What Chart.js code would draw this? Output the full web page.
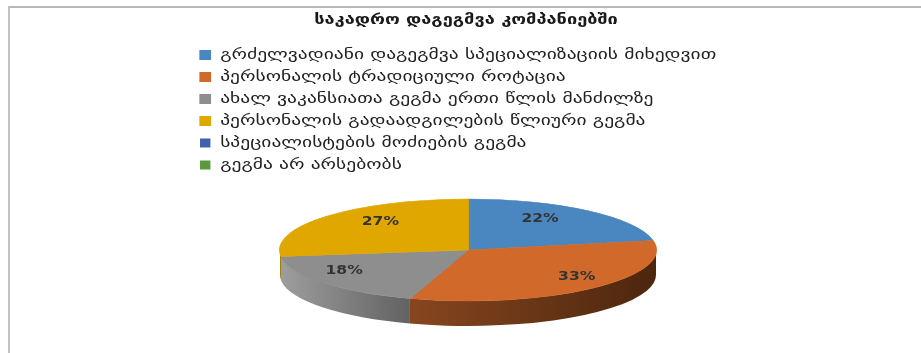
<!DOCTYPE html>
<html>
<head>
<meta charset="utf-8">
<script src="https://cdn.jsdelivr.net/npm/chart.js@4.4.1/dist/chart.umd.min.js"></script>
<style>
  html, body { margin: 0; padding: 0; background: #ffffff; }
  #wrap { position: relative; width: 921px; height: 353px; overflow: hidden; }
  #frame { position: absolute; left: 8px; top: 6px; width: 930px; height: 360px;
           border-left: 2px solid #c2c2c2; border-top: 2px solid #b8b8b8; }
  #c { position: absolute; left: 0; top: 0; }
</style>
</head>
<body>
<div id="wrap">
  <div id="frame"></div>
  <canvas id="c" width="921" height="353"></canvas>
</div>
<script>
// Survey: how companies plan their staffing (shares in %)
const chartTitle = 'საკადრო დაგეგმვა კომპანიებში';
const categories = [
  'გრძელვადიანი დაგეგმვა სპეციალიზაციის მიხედვით',
  'პერსონალის ტრადიციული როტაცია',
  'ახალ ვაკანსიათა გეგმა ერთი წლის მანძილზე',
  'პერსონალის გადაადგილების წლიური გეგმა',
  'სპეციალისტების მოძიების გეგმა',
  'გეგმა არ არსებობს'
];
const shares = [22, 33, 18, 27, 0, 0];

// face colours and the light/dark ends of each slice's outer wall
const faceColors = ['#4a86bf', '#d0692a', '#8e8e8e', '#e0a700', '#3f62ae', '#5b9a3c'];
const wallLight  = ['#2f5a84', '#87461f', '#9d9d9d', '#b08a10', '#2a4378', '#3e6a28'];
const wallDark   = ['#1e3b57', '#4c260e', '#626262', '#8a6a00', '#1b2c50', '#29461a'];

// where the tilted pie sits on the page
const PIE = { cx: 468, cy: 250, rx: 188, ry: 51, depth: 25, labelLift: 7 };
// the wide Georgian lettering: text is stretched horizontally about TEXT_X0
const TEXT_STRETCH = 1.3;
const TEXT_X0 = 466;

const FONT = "'DejaVu Sans', 'Noto Sans', sans-serif";

const tiltedPie = {
  id: 'tiltedPie',
  afterLayout(chart) {
    // let long legend lines run past the legend's own column
    const lg = chart.legend;
    if (lg) { lg.right = chart.width; lg.width = lg.right - lg.left; }
  },
  beforeDraw(chart) {
    // title and legend are drawn stretched
    const ctx = chart.ctx;
    ctx.save();
    ctx.translate(TEXT_X0, 0);
    ctx.scale(TEXT_STRETCH, 1);
    ctx.translate(-TEXT_X0, 0);
  },
  beforeDatasetsDraw(chart) {
    const ctx = chart.ctx;
    ctx.restore();

    const meta = chart.getDatasetMeta(0);
    const first = meta.data[0];
    const R = first.outerRadius;
    const sx = PIE.rx / R, sy = PIE.ry / R;

    // outer wall: only the front half (angles 0..PI) is visible
    meta.data.forEach((arc, i) => {
      if (!shares[i]) return;
      const a1 = Math.max(arc.startAngle, 0);
      const a2 = Math.min(arc.endAngle, Math.PI);
      if (a2 <= a1) return;
      const xl = PIE.cx + PIE.rx * Math.cos(a2);
      const xr = PIE.cx + PIE.rx * Math.cos(a1);
      const g = ctx.createLinearGradient(xl, 0, Math.max(xr, xl + 1), 0);
      g.addColorStop(0, wallLight[i]);
      g.addColorStop(1, wallDark[i]);
      ctx.save();
      ctx.beginPath();
      ctx.ellipse(PIE.cx, PIE.cy, PIE.rx, PIE.ry, 0, a1, a2, false);
      ctx.ellipse(PIE.cx, PIE.cy + PIE.depth, PIE.rx, PIE.ry, 0, a2, a1, true);
      ctx.closePath();
      ctx.fillStyle = g;
      ctx.fill();
      ctx.restore();
    });

    // the library's arcs, squashed into the top face
    ctx.save();
    ctx.translate(PIE.cx, PIE.cy);
    ctx.scale(sx, sy);
    ctx.translate(-first.x, -first.y);
  },
  afterDatasetsDraw(chart) {
    const ctx = chart.ctx;
    ctx.restore();

    const meta = chart.getDatasetMeta(0);
    const total = shares.reduce((s, v) => s + v, 0);
    ctx.save();
    ctx.font = 'bold 12px ' + FONT;
    ctx.fillStyle = '#333333';
    ctx.textAlign = 'center';
    ctx.textBaseline = 'middle';
    meta.data.forEach((arc, i) => {
      if (!shares[i]) return;
      const mid = (arc.startAngle + arc.endAngle) / 2;
      // slices nearer the viewer get their label pushed further out
      const f = 0.56 + 0.36 * (1 + Math.sin(mid)) / 2;
      const x = PIE.cx + f * PIE.rx * Math.cos(mid);
      const y = PIE.cy - PIE.labelLift + f * PIE.ry * Math.sin(mid);
      ctx.save();
      ctx.translate(x, y);
      ctx.scale(TEXT_STRETCH, 1);
      ctx.fillText(Math.round(shares[i] / total * 100) + '%', 0, 0);
      ctx.restore();
    });
    ctx.restore();
  }
};

new Chart(document.getElementById('c'), {
  type: 'pie',
  data: {
    labels: categories,
    datasets: [{
      data: shares,
      backgroundColor: faceColors,
      borderColor: faceColors,
      borderWidth: shares.map(v => (v > 0 ? 1 : 0)),
      clip: false
    }]
  },
  options: {
    responsive: false,
    animation: false,
    events: [],
    layout: { padding: { left: 254.4, right: 243.4, top: 0, bottom: 0 } },
    plugins: {
      title: {
        display: true,
        text: chartTitle,
        color: '#1a1a1a',
        font: { family: FONT, size: 14, weight: 'bold' },
        padding: { top: 11.6, bottom: 12.1 }
      },
      legend: {
        position: 'left',
        align: 'start',
        fullSize: false,
        labels: {
          boxWidth: 8,
          boxHeight: 9,
          padding: 7,
          color: '#222222',
          font: { family: FONT, size: 15 }
        }
      },
      tooltip: { enabled: false }
    }
  },
  plugins: [tiltedPie]
});
</script>
</body>
</html>
